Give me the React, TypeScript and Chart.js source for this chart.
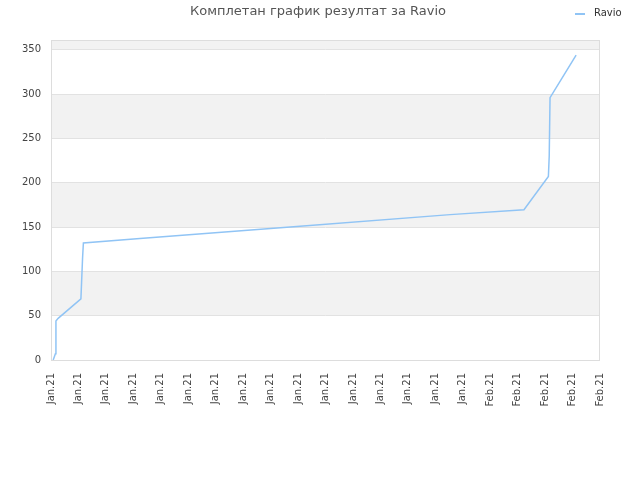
import { useEffect, useRef } from 'react';
import { Chart, registerables } from 'chart.js';

Chart.register(...registerables);

const TITLE = 'Комплетан график резултат за Ravio';
const SERIES_NAME = 'Ravio';

// tick labels under the x axis, one per step
const X_LABELS = [
  'Jan.21', 'Jan.21', 'Jan.21', 'Jan.21', 'Jan.21', 'Jan.21', 'Jan.21',
  'Jan.21', 'Jan.21', 'Jan.21', 'Jan.21', 'Jan.21', 'Jan.21', 'Jan.21',
  'Jan.21', 'Jan.21', 'Feb.21', 'Feb.21', 'Feb.21', 'Feb.21', 'Feb.21',
];
const Y_TICKS = [0, 50, 100, 150, 200, 250, 300, 350];

// position along the axis (in tick steps) and cumulative score
const POINT_X = [0.08, 0.16, 0.18, 0.26, 1.09, 1.15, 1.18, 3.24, 9.07, 14.54, 17.23, 18.12, 18.15, 18.18, 19.13];
const POINT_Y = [0, 7, 44, 47, 69, 115, 132, 137, 151, 164, 169.5, 207, 230, 296, 344];

const Y_MAX = 361;
const LINE_COLOR = '#90c4f5';

const bandsPlugin = {
  id: 'bands',
  beforeDraw(chart: Chart) {
    const { ctx, chartArea, scales } = chart;
    const y = scales.y;
    ctx.save();
    ctx.fillStyle = '#ffffff';
    ctx.fillRect(chartArea.left, chartArea.top, chartArea.width, chartArea.height);
    ctx.fillStyle = '#f2f2f2';
    for (let v = 50; v < Y_MAX; v += 100) {
      const top = y.getPixelForValue(Math.min(v + 50, Y_MAX));
      const bottom = y.getPixelForValue(v);
      ctx.fillRect(chartArea.left, top, chartArea.width, bottom - top);
    }
    ctx.restore();
  },
  afterDraw(chart: Chart) {
    const { ctx, chartArea } = chart;
    ctx.save();
    ctx.strokeStyle = '#dddddd';
    ctx.lineWidth = 1;
    ctx.strokeRect(chartArea.left + 0.5, chartArea.top + 0.5, chartArea.width - 1, chartArea.height);

    ctx.fillStyle = '#555555';
    ctx.font = '13px "DejaVu Sans"';
    ctx.textAlign = 'center';
    ctx.textBaseline = 'middle';
    ctx.fillText(TITLE, 318, 12);

    ctx.strokeStyle = LINE_COLOR;
    ctx.lineWidth = 2;
    ctx.beginPath();
    ctx.moveTo(575, 14);
    ctx.lineTo(585, 14);
    ctx.stroke();
    ctx.fillStyle = '#333333';
    ctx.font = '10px "DejaVu Sans"';
    ctx.textAlign = 'left';
    ctx.fillText(SERIES_NAME, 594, 13);
    ctx.restore();
  },
};

export default function App() {
  const canvasRef = useRef<HTMLCanvasElement>(null);

  useEffect(() => {
    document.body.style.margin = '0';
    if (!canvasRef.current) return;

    const chart = new Chart(canvasRef.current, {
      type: 'line',
      data: {
        datasets: [
          {
            label: SERIES_NAME,
            data: POINT_X.map((x, i) => ({ x, y: POINT_Y[i] })),
            borderColor: LINE_COLOR,
            borderWidth: 1.5,
            pointRadius: 0,
            fill: false,
            tension: 0,
          },
        ],
      },
      options: {
        animation: false,
        responsive: false,
        layout: { padding: { top: 40, right: 40, left: 0, bottom: 0 } },
        plugins: {
          legend: { display: false },
          title: { display: false },
          tooltip: { enabled: false },
        },
        scales: {
          x: {
            type: 'linear',
            min: 0,
            max: X_LABELS.length - 1,
            grid: { display: false },
            border: { display: false },
            afterFit: (scale: any) => {
              scale.height = 120;
            },
            ticks: {
              stepSize: 1,
              autoSkip: false,
              maxRotation: 90,
              minRotation: 90,
              padding: 5,
              color: '#444444',
              font: { family: '"DejaVu Sans"', size: 10 },
              callback: (v: any) => X_LABELS[Math.round(Number(v))] ?? '',
            },
          },
          y: {
            min: 0,
            max: Y_MAX,
            grid: { color: '#e2e2e2', drawTicks: false },
            border: { display: false },
            afterFit: (scale: any) => {
              scale.width = 51;
            },
            afterBuildTicks: (scale: any) => {
              scale.ticks = Y_TICKS.map((value) => ({ value }));
            },
            ticks: {
              padding: 10,
              color: '#444444',
              font: { family: '"DejaVu Sans"', size: 10 },
            },
          },
        },
      },
      plugins: [bandsPlugin],
    });

    return () => chart.destroy();
  }, []);

  return <canvas ref={canvasRef} width={640} height={480} />;
}
